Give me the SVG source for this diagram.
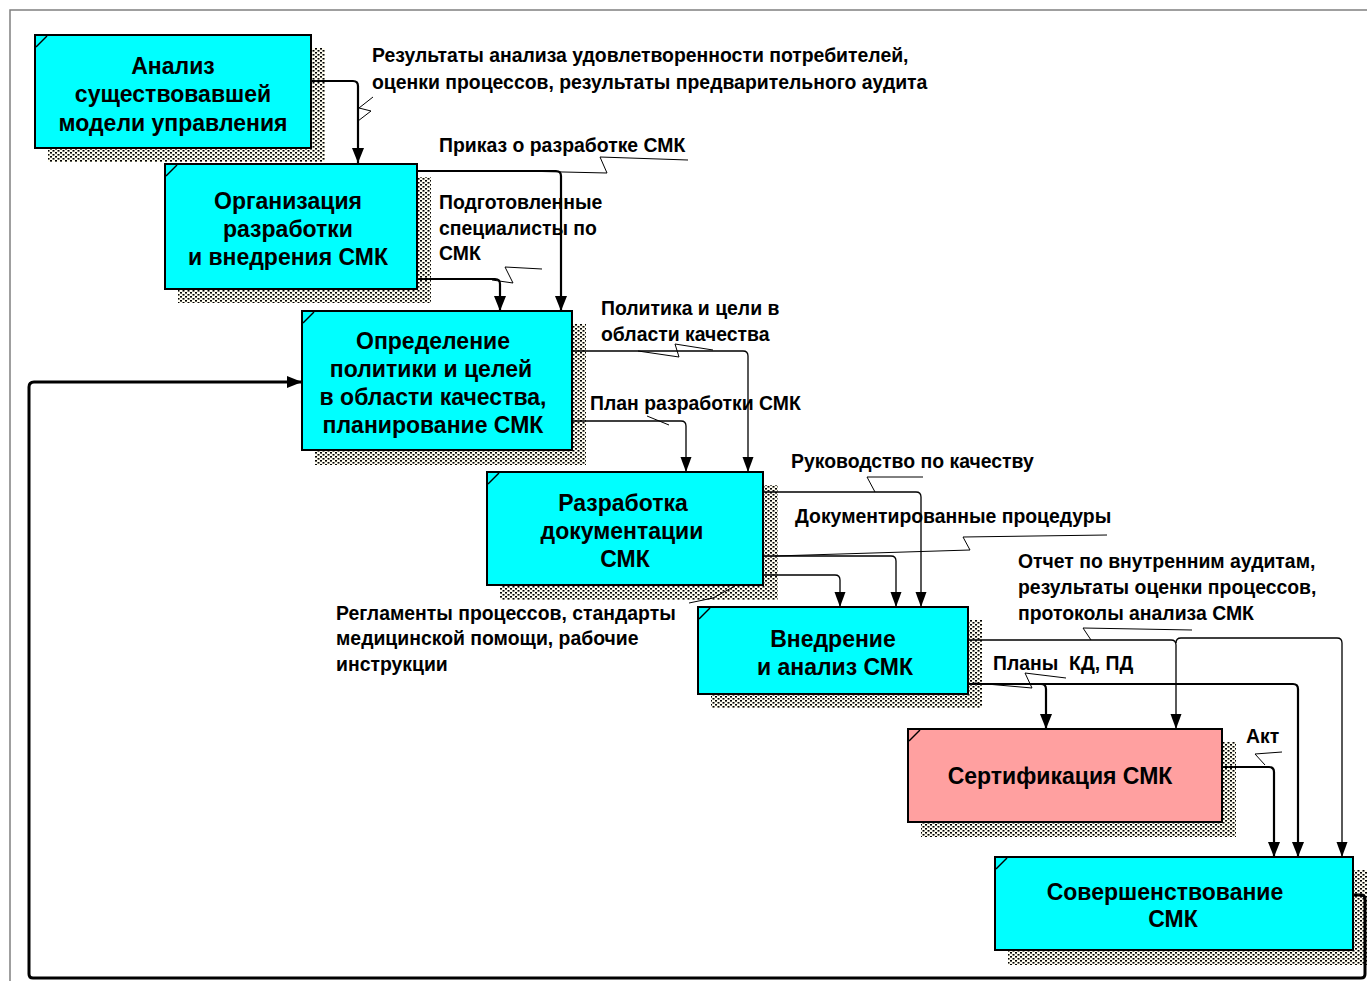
<svg xmlns="http://www.w3.org/2000/svg" width="1367" height="981" viewBox="0 0 1367 981">
<defs>
<pattern id="dots" width="5" height="4" patternUnits="userSpaceOnUse">
<rect width="5" height="4" fill="#fffdf0"/>
<rect x="0" y="0" width="2" height="1.6" fill="#000"/>
<rect x="2.5" y="2" width="2" height="1.6" fill="#000"/>
</pattern>
<marker id="ah" markerUnits="userSpaceOnUse" markerWidth="16" markerHeight="14" refX="15" refY="6" orient="auto">
<path d="M0,0 L15,6 L0,12 z" fill="#000"/>
</marker>
<marker id="ahs" markerUnits="userSpaceOnUse" markerWidth="16" markerHeight="12" refX="15" refY="5.5" orient="auto">
<path d="M0,0 L15,5.5 L0,11 z" fill="#000"/>
</marker>
</defs>
<style>
.box{stroke:#000;stroke-width:2}
.cy{fill:#00ffff}
.pk{fill:#ffa0a0}
.sh{fill:url(#dots)}
.cm{stroke:#000;stroke-width:1.5;fill:none}
.t{font-family:"Liberation Sans",Arial,sans-serif;font-weight:bold;font-size:23px;fill:#000;text-anchor:middle}
.l{font-family:"Liberation Sans",Arial,sans-serif;font-weight:bold;font-size:19.4px;fill:#000}
.c{fill:none;stroke:#000}
.th{stroke-width:2.2}
.tn{stroke-width:1.3}
.sq{fill:none;stroke:#000;stroke-width:1}
</style>
<rect width="1367" height="981" fill="#fff"/>
<path d="M10,981 V10 H1367" fill="none" stroke="#808080" stroke-width="1.5"/>

<g id="n1">
<rect class="sh" x="48" y="48" width="277" height="114"/>
<rect class="box cy" x="35" y="35" width="276" height="113"/>
<path class="cm" d="M36,47 L47,36"/>
<text class="t"><tspan x="173" y="74">Анализ</tspan><tspan x="173" y="102">существовавшей</tspan><tspan x="173" y="131">модели управления</tspan></text>
</g>
<g id="n2">
<rect class="sh" x="178" y="177" width="253" height="126"/>
<rect class="box cy" x="165" y="164" width="252" height="125"/>
<path class="cm" d="M166,176 L177,165"/>
<text class="t"><tspan x="288" y="209">Организация</tspan><tspan x="288" y="237">разработки</tspan><tspan x="288" y="265">и внедрения СМК</tspan></text>
</g>
<g id="n3">
<rect class="sh" x="315" y="324" width="271" height="141"/>
<rect class="box cy" x="302" y="311" width="270" height="139"/>
<path class="cm" d="M303,323 L314,312"/>
<text class="t"><tspan x="433" y="349">Определение</tspan><tspan x="431" y="377">политики и целей</tspan><tspan x="433" y="405">в области качества,</tspan><tspan x="433" y="433">планирование СМК</tspan></text>
</g>
<g id="n4">
<rect class="sh" x="500" y="485" width="278" height="115"/>
<rect class="box cy" x="487" y="472" width="276" height="113"/>
<path class="cm" d="M488,484 L499,473"/>
<text class="t"><tspan x="623" y="511">Разработка</tspan><tspan x="622" y="539">документации</tspan><tspan x="625" y="567">СМК</tspan></text>
</g>
<g id="n5">
<rect class="sh" x="711" y="620" width="271" height="88"/>
<rect class="box cy" x="698" y="607" width="270" height="87"/>
<path class="cm" d="M699,619 L710,608"/>
<text class="t"><tspan x="833" y="647">Внедрение</tspan><tspan x="835" y="675">и анализ СМК</tspan></text>
</g>
<g id="n6">
<rect class="sh" x="921" y="742" width="315" height="95"/>
<rect class="box pk" x="908" y="729" width="314" height="93"/>
<path class="cm" d="M909,741 L920,730"/>
<text class="t"><tspan x="1060" y="784">Сертификация СМК</tspan></text>
</g>
<g id="n7">
<rect class="sh" x="1008" y="870" width="360" height="95"/>
<rect class="box cy" x="995" y="857" width="358" height="93"/>
<path class="cm" d="M996,869 L1007,858"/>
<text class="t"><tspan x="1165" y="900">Совершенствование</tspan><tspan x="1173" y="927">СМК</tspan></text>
</g>

<g id="connectors">
<path class="c th" d="M311,81 H353 Q358,81 358,86 V163" marker-end="url(#ah)"/>
<polyline class="sq" points="373,97 359,108 371,111 358,121"/>
<path class="c th" d="M417,171 H556 Q561,171 561,176 V311" marker-end="url(#ah)"/>
<polyline class="sq" points="688,160 600,157 607,173 520,171"/>
<path class="c th" d="M417,279 H495 Q500,279 500,284 V311" marker-end="url(#ah)"/>
<polyline class="sq" points="542,269 505,267 513,283 492,280"/>
<path class="c tn" d="M572,351 H743 Q748,351 748,356 V472" marker-end="url(#ahs)"/>
<polyline class="sq" points="638,351 679,357 675,344 713,350"/>
<path class="c tn" d="M572,421 H681 Q686,421 686,426 V472" marker-end="url(#ahs)"/>
<polyline class="sq" points="647,416 669,425"/>
<path class="c tn" d="M763,492 H916 Q921,492 921,497 V607" marker-end="url(#ahs)"/>
<polyline class="sq" points="923,477 867,477 875,492"/>
<path class="c tn" d="M763,556 H891 Q896,556 896,561 V607" marker-end="url(#ahs)"/>
<polyline class="sq" points="1107,535 963,537 970,550 775,556"/>
<path class="c tn" d="M763,575 H835 Q840,575 840,580 V607" marker-end="url(#ahs)"/>
<polyline class="sq" points="689,603 713,598 735,586"/>
<path class="c tn" d="M968,640 H1171 Q1176,640 1176,645 V729" marker-end="url(#ahs)"/>
<path class="c tn" d="M1176,643 Q1176,638 1181,638 H1337 Q1342,638 1342,643 V857" marker-end="url(#ahs)"/>
<polyline class="sq" points="1192,630 1083,628 1091,640"/>
<path class="c th" d="M968,684 H1041 Q1046,684 1046,689 V729" marker-end="url(#ah)"/>
<path class="c th" d="M1041,684 H1293 Q1298,684 1298,689 V857" marker-end="url(#ah)"/>
<polyline class="sq" points="1066,678 1025,673 1032,688 975,683"/>
<path class="c th" d="M1222,767 H1269 Q1274,767 1274,772 V857" marker-end="url(#ah)"/>
<polyline class="sq" points="1282,752 1255,754 1265,765"/>
<path class="c" stroke-width="3" d="M1353,895 H1361 Q1365,895 1365,899 V974 Q1365,978 1361,978 H33 Q29,978 29,974 V387 Q29,382 34,382 H302" marker-end="url(#ah)"/>
</g>

<g id="labels">
<text class="l"><tspan x="372" y="62">Результаты анализа удовлетворенности потребителей,</tspan><tspan x="372" y="89">оценки процессов, результаты предварительного аудита</tspan></text>
<text class="l" x="439" y="152">Приказ о разработке СМК</text>
<text class="l"><tspan x="439" y="209">Подготовленные</tspan><tspan x="439" y="235">специалисты по</tspan><tspan x="439" y="260">СМК</tspan></text>
<text class="l"><tspan x="601" y="315">Политика и цели в</tspan><tspan x="601" y="341">области качества</tspan></text>
<text class="l" x="590" y="410">План разработки СМК</text>
<text class="l" x="791" y="468">Руководство по качеству</text>
<text class="l" x="795" y="523">Документированные процедуры</text>
<text class="l"><tspan x="336" y="620">Регламенты процессов, стандарты</tspan><tspan x="336" y="645">медицинской помощи, рабочие</tspan><tspan x="336" y="671">инструкции</tspan></text>
<text class="l"><tspan x="1018" y="568">Отчет по внутренним аудитам,</tspan><tspan x="1018" y="594">результаты оценки процессов,</tspan><tspan x="1018" y="620">протоколы анализа СМК</tspan></text>
<text class="l" x="993" y="670" xml:space="preserve">Планы  КД, ПД</text>
<text class="l" x="1246" y="743">Акт</text>
</g>
</svg>
